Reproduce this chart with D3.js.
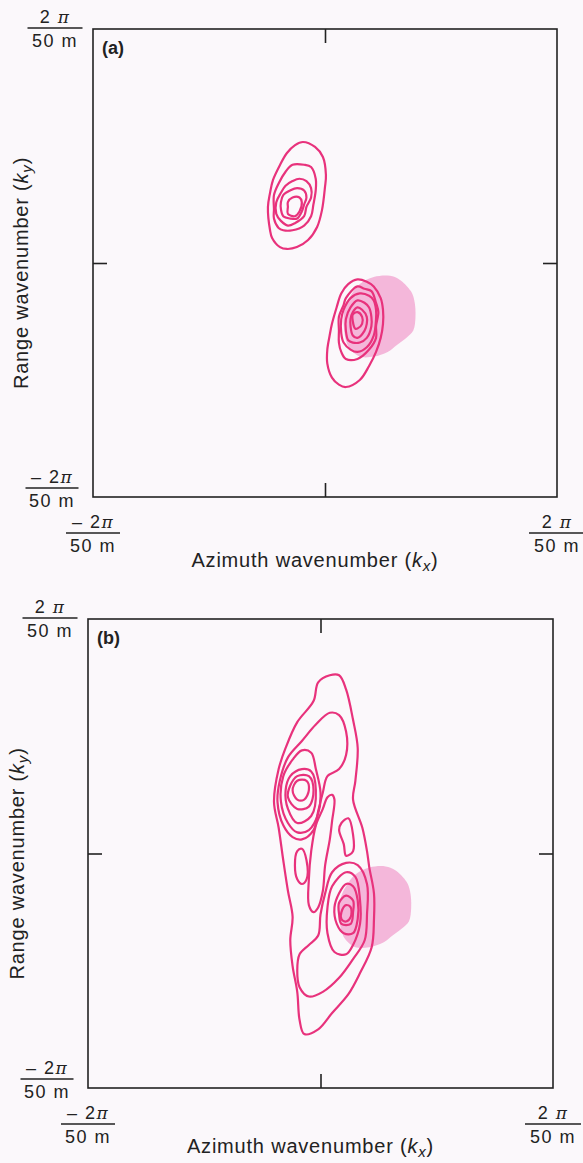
<!DOCTYPE html>
<html>
<head>
<meta charset="utf-8">
<script src="https://cdn.jsdelivr.net/npm/d3@7"></script>
<style>
body { margin: 0; background: #fbf8fb; }
svg { display: block; font-family: "Liberation Sans", Arial, sans-serif; }
</style>
</head>
<body>
<svg id="svg01" width="583" height="1163"></svg>
<script>
// all wavenumbers in units of 2π/50 m  -> axis runs -1 .. 1
const panelNames = ["(a)", "(b)"]
const axisEnds = [-1, 1]
const tickVals = [0]
const endLabels = [{num: "– 2", den: "50 m"}, {num: "2 ", den: "50 m"}]
const xTitle = "Azimuth wavenumber"
const yTitle = "Range wavenumber"

// shaded area (same in both panels)
const shadeBlob = [[0.21,-0.06],[0.28,-0.055],[0.32,-0.07],[0.37,-0.12],[0.385,-0.16],[0.39,-0.23],[0.38,-0.29],[0.35,-0.32],
  [0.31,-0.35],[0.27,-0.38],[0.21,-0.40],[0.15,-0.40],[0.11,-0.37],[0.09,-0.33],[0.08,-0.23],[0.09,-0.18],[0.11,-0.14],[0.15,-0.09]]

// panel (a) contours
const contoursA = [
  [[-0.095,0.517],[-0.043,0.496],[-0.009,0.453],[0.004,0.376],[0.0,0.325],[-0.013,0.226],[-0.034,0.154],[-0.073,0.098],[-0.121,0.068],
   [-0.164,0.06],[-0.194,0.068],[-0.228,0.107],[-0.237,0.141],[-0.246,0.239],[-0.237,0.299],[-0.224,0.355],[-0.194,0.419],[-0.164,0.47],[-0.129,0.504]],
  [[-0.14,0.42],[-0.09,0.42],[-0.06,0.41],[-0.04,0.36],[-0.04,0.31],[-0.05,0.25],[-0.06,0.2],[-0.09,0.16],[-0.14,0.14],[-0.18,0.14],
   [-0.2,0.15],[-0.22,0.19],[-0.22,0.23],[-0.22,0.29],[-0.2,0.34],[-0.17,0.39]],
  [[-0.14,0.35],[-0.11,0.36],[-0.08,0.35],[-0.06,0.32],[-0.06,0.28],[-0.08,0.24],[-0.09,0.2],[-0.13,0.17],[-0.16,0.16],[-0.19,0.18],
   [-0.21,0.21],[-0.21,0.26],[-0.19,0.3],[-0.17,0.33]],
  [[-0.15,0.31],[-0.12,0.32],[-0.09,0.31],[-0.08,0.28],[-0.09,0.25],[-0.1,0.22],[-0.12,0.19],[-0.15,0.19],[-0.18,0.2],[-0.19,0.23],
   [-0.19,0.26],[-0.18,0.29]],
  [[-0.14,0.28],[-0.11,0.28],[-0.1,0.26],[-0.11,0.22],[-0.13,0.2],[-0.16,0.21],[-0.16,0.24],[-0.16,0.26]],
  [[0.14,-0.07],[0.18,-0.08],[0.21,-0.1],[0.24,-0.15],[0.25,-0.2],[0.25,-0.26],[0.24,-0.32],[0.22,-0.38],[0.19,-0.44],[0.15,-0.5],
   [0.09,-0.53],[0.06,-0.52],[0.03,-0.49],[0.01,-0.43],[0.01,-0.37],[0.02,-0.31],[0.03,-0.26],[0.05,-0.19],[0.07,-0.13],[0.1,-0.09]],
  [[0.14,-0.1],[0.17,-0.11],[0.2,-0.12],[0.22,-0.17],[0.23,-0.21],[0.22,-0.27],[0.22,-0.32],[0.19,-0.37],[0.14,-0.41],[0.09,-0.41],
   [0.07,-0.38],[0.06,-0.34],[0.06,-0.29],[0.06,-0.23],[0.08,-0.18],[0.09,-0.15]],
  [[0.15,-0.13],[0.19,-0.14],[0.21,-0.16],[0.22,-0.2],[0.22,-0.24],[0.21,-0.31],[0.18,-0.36],[0.14,-0.38],[0.11,-0.37],[0.08,-0.34],
   [0.07,-0.3],[0.07,-0.24],[0.08,-0.2],[0.11,-0.15]],
  [[0.14,-0.16],[0.17,-0.17],[0.19,-0.19],[0.2,-0.23],[0.2,-0.27],[0.18,-0.32],[0.15,-0.34],[0.12,-0.34],[0.1,-0.33],[0.09,-0.29],
   [0.09,-0.24],[0.11,-0.19]],
  [[0.14,-0.19],[0.16,-0.2],[0.18,-0.23],[0.18,-0.26],[0.17,-0.29],[0.14,-0.32],[0.12,-0.31],[0.11,-0.27],[0.11,-0.24],[0.12,-0.21]],
  [[0.14,-0.21],[0.16,-0.23],[0.16,-0.26],[0.14,-0.28],[0.13,-0.28],[0.12,-0.25],[0.12,-0.22]]
]

// panel (b) contours
const contoursB = [
  [[0.04,0.76],[0.08,0.76],[0.11,0.7],[0.14,0.57],[0.16,0.45],[0.15,0.31],[0.14,0.23],[0.18,0.11],[0.2,0.01],[0.21,-0.06],
   [0.23,-0.17],[0.23,-0.28],[0.22,-0.4],[0.17,-0.51],[0.12,-0.6],[0.05,-0.68],[-0.01,-0.75],[-0.07,-0.77],[-0.09,-0.71],
   [-0.1,-0.59],[-0.12,-0.48],[-0.13,-0.37],[-0.12,-0.27],[-0.14,-0.16],[-0.16,-0.03],[-0.18,0.11],[-0.2,0.22],[-0.18,0.36],
   [-0.15,0.45],[-0.1,0.56],[-0.03,0.65],[-0.01,0.73]],
  [[0.04,0.6],[0.08,0.59],[0.11,0.52],[0.11,0.42],[0.08,0.36],[0.03,0.33],[0.01,0.26],[-0.01,0.18],[-0.03,0.1],[-0.08,0.06],
   [-0.12,0.07],[-0.16,0.12],[-0.185,0.22],[-0.175,0.31],[-0.14,0.41],[-0.08,0.48],[-0.02,0.55]],
  [[-0.08,0.44],[-0.04,0.43],[-0.02,0.36],[0.0,0.26],[-0.01,0.17],[-0.05,0.1],[-0.1,0.09],[-0.14,0.13],[-0.17,0.22],[-0.16,0.33],[-0.12,0.4]],
  [[-0.08,0.36],[-0.04,0.35],[-0.02,0.27],[-0.04,0.16],[-0.1,0.13],[-0.14,0.19],[-0.15,0.27],[-0.13,0.33]],
  [[-0.1,0.33],[-0.05,0.33],[-0.03,0.27],[-0.05,0.2],[-0.1,0.19],[-0.14,0.24],[-0.13,0.29]],
  [[-0.1,0.31],[-0.06,0.31],[-0.05,0.27],[-0.07,0.23],[-0.1,0.23],[-0.12,0.27]],
  [[0.05,0.25],[0.06,0.23],[0.05,0.14],[0.04,0.06],[0.02,-0.05],[0.01,-0.16],[-0.01,-0.23],[-0.03,-0.25],[-0.05,-0.22],
   [-0.05,-0.11],[-0.04,0.01],[-0.02,0.12],[0.01,0.19],[0.03,0.24]],
  [[-0.1,0.01],[-0.08,0.02],[-0.06,-0.03],[-0.06,-0.11],[-0.08,-0.13],[-0.1,-0.11],[-0.11,-0.05]],
  [[0.09,0.13],[0.12,0.15],[0.14,0.08],[0.14,0.01],[0.11,-0.01],[0.1,0.04],[0.08,0.1]],
  [[0.11,-0.04],[0.16,-0.05],[0.2,-0.13],[0.2,-0.26],[0.19,-0.37],[0.14,-0.45],[0.08,-0.53],[0.01,-0.59],[-0.05,-0.61],
   [-0.09,-0.57],[-0.1,-0.5],[-0.09,-0.43],[-0.05,-0.39],[-0.01,-0.35],[0.0,-0.26],[0.02,-0.17],[0.05,-0.08]],
  [[0.11,-0.08],[0.15,-0.1],[0.17,-0.2],[0.17,-0.3],[0.14,-0.39],[0.11,-0.43],[0.06,-0.42],[0.03,-0.34],[0.03,-0.23],[0.05,-0.14]],
  [[0.11,-0.13],[0.14,-0.14],[0.16,-0.2],[0.16,-0.28],[0.14,-0.34],[0.1,-0.34],[0.07,-0.3],[0.06,-0.23],[0.08,-0.17]],
  [[0.11,-0.18],[0.14,-0.2],[0.14,-0.25],[0.13,-0.3],[0.09,-0.3],[0.08,-0.26],[0.08,-0.21]],
  [[0.11,-0.22],[0.13,-0.23],[0.13,-0.27],[0.11,-0.29],[0.09,-0.28],[0.09,-0.25]]
]

const contourSets = [contoursA, contoursB]

// layout of the two panels
const frames = [
  {left: 93, top: 29, right: 557, bottom: 497, yTitleX: 28, xTitleDy: 70},
  {left: 88, top: 619, right: 553, bottom: 1088, yTitleX: 24, xTitleDy: 65}
]

const svg = d3.select("#svg01")
const ink = "#222"
const contourColor = "#e8327c"

function frac(g, cx, barY, lab, w) {
  g.append("line")
    .attr("x1", cx - w / 2).attr("x2", cx + w / 2)
    .attr("y1", barY).attr("y2", barY)
    .attr("stroke", ink).attr("stroke-width", 1.3)
  const t = g.append("text")
    .attr("x", cx).attr("y", barY - 5)
    .attr("text-anchor", "middle")
    .attr("font-size", 18).attr("letter-spacing", 1.5).attr("fill", ink)
  t.append("tspan").text(lab.num)
  t.append("tspan").attr("font-style", "italic").attr("font-family", "DejaVu Serif").attr("font-size", 17).text("π")
  g.append("text")
    .attr("x", cx).attr("y", barY + 19)
    .attr("text-anchor", "middle")
    .attr("font-size", 18).attr("letter-spacing", 1.5).attr("fill", ink)
    .text(lab.den)
}

frames.forEach((f, i) => {
  const x = d3.scaleLinear().domain(axisEnds).range([f.left, f.right])
  const y = d3.scaleLinear().domain(axisEnds).range([f.bottom, f.top])

  const line = d3.line()
    .x(d => x(d[0]))
    .y(d => y(d[1]))
    .curve(d3.curveCatmullRomClosed.alpha(0.5))

  const g_ = svg.append("g")

  // shaded spectrum
  g_.append("path")
    .attr("d", line(shadeBlob))
    .attr("fill", "#f2acd4")
    .attr("fill-opacity", 0.85)

  // contour lines
  g_.append("g")
    .selectAll("path")
    .data(contourSets[i])
    .join("path")
    .attr("d", d => line(d))
    .attr("fill", "none")
    .attr("stroke", contourColor)
    .attr("stroke-width", 2.2)
    .attr("stroke-linejoin", "round")

  // frame
  g_.append("rect")
    .attr("x", x(-1)).attr("y", y(1))
    .attr("width", x(1) - x(-1)).attr("height", y(-1) - y(1))
    .attr("fill", "none").attr("stroke", ink).attr("stroke-width", 1.6)

  // centre ticks, pointing inward
  const tick = a => a.tickValues(tickVals).tickSize(-14).tickFormat("")
  const axes = [
    [d3.axisBottom(x), `translate(0,${y(-1)})`],
    [d3.axisTop(x), `translate(0,${y(1)})`],
    [d3.axisLeft(y), `translate(${x(-1)},0)`],
    [d3.axisRight(y), `translate(${x(1)},0)`]
  ]
  axes.forEach(([a, tr]) => {
    g_.append("g").attr("transform", tr)
      .call(tick(a))
      .call(g => g.select(".domain").remove())
      .call(g => g.selectAll("line").attr("stroke", ink).attr("stroke-width", 1.6))
  })

  // panel letter
  g_.append("text")
    .attr("x", x(-1) + 9).attr("y", y(1) + 25)
    .attr("font-size", 18).attr("font-weight", "bold").attr("fill", ink)
    .text(panelNames[i])

  // end labels of the y axis
  frac(g_, x(-1) - 38, y(1) - 1, endLabels[1], 55)
  frac(g_, x(-1) - 41, y(-1) - 9, endLabels[0], 53)
  // end labels of the x axis
  frac(g_, x(-1), y(-1) + 36, endLabels[0], 54)
  frac(g_, x(1), y(-1) + 36, endLabels[1], 56)

  // axis titles
  const xt = g_.append("text")
    .attr("x", x(0) - 10).attr("y", y(-1) + f.xTitleDy)
    .attr("text-anchor", "middle")
    .attr("font-size", 20).attr("letter-spacing", 0.8).attr("fill", ink)
  xt.append("tspan").text(xTitle + " (")
  xt.append("tspan").attr("font-style", "italic").text("k")
  xt.append("tspan").attr("font-style", "italic").attr("font-size", 15).attr("dy", 4).text("x")
  xt.append("tspan").attr("dy", -4).text(")")

  const yt = g_.append("text")
    .attr("transform", `translate(${f.yTitleX},${y(0) + 10}) rotate(-90)`)
    .attr("text-anchor", "middle")
    .attr("font-size", 20).attr("letter-spacing", 0.8).attr("fill", ink)
  yt.append("tspan").text(yTitle + " (")
  yt.append("tspan").attr("font-style", "italic").text("k")
  yt.append("tspan").attr("font-style", "italic").attr("font-size", 15).attr("dy", 4).text("y")
  yt.append("tspan").attr("dy", -4).text(")")
})
</script>
</body>
</html>
